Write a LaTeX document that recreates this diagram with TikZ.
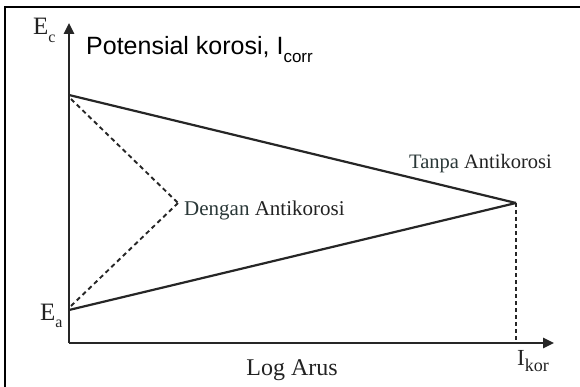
\documentclass[tikz,border=0pt]{standalone}
\usepackage{fontspec}
\setmainfont{Liberation Serif}
\newfontfamily\arialf{Liberation Sans}
\usetikzlibrary{arrows.meta}
\definecolor{ink}{HTML}{262626}
\definecolor{txt}{HTML}{222222}
\definecolor{tealtxt}{HTML}{2A3838}
\tikzset{
  axisline/.style={draw=ink,line width=2.6pt,-{Triangle[length=11pt,width=10pt]}},
  mainline/.style={draw=ink,line width=2.2pt},
  dashline/.style={draw=ink,line width=1.9pt,dash pattern=on 4.5pt off 3.5pt},
  vdashline/.style={draw=ink,line width=2.4pt,dash pattern=on 4pt off 3pt},
  lbl/.style={inner sep=0pt,anchor=base west,text=txt},
}
\newcommand{\lsub}[2]{\raisebox{-0.3em}{\fontsize{#1}{#1}\selectfont #2}}
\begin{document}
\begin{tikzpicture}[x=1pt,y=-1pt]
\useasboundingbox (0,0) rectangle (580,387);
\fill[white] (0,0) rectangle (580,387);
\draw[draw=black,line width=2.4pt] (5,388) -- (5,7) -- (581,7);
% coordinates
\coordinate (O) at (69,343);
\coordinate (Ytop) at (69,23);
\coordinate (Xend) at (554,343);
\coordinate (C) at (69,95);
\coordinate (A) at (69,310);
\coordinate (K) at (516,203);
\coordinate (Kb) at (516,343);
\coordinate (D) at (178,203);
\coordinate (Cd) at (71,99);
\coordinate (Ad) at (71,306);
% axes
\draw[axisline] (O) -- (Ytop);
\draw[axisline] (O) -- (Xend);
% solid lines
\draw[mainline] (C) -- (K);
\draw[mainline] (A) -- (K);
% dashed lines
\draw[dashline] (Cd) -- (D);
\draw[dashline] (Ad) -- (D);
\draw[vdashline] (K) -- (Kb);
% labels
\node[lbl] (ec) at (33,35) {\fontsize{25}{25}\selectfont E\lsub{16}{c}};
\node[lbl] (ea) at (40,320) {\fontsize{25}{25}\selectfont E\lsub{16}{a}};
\node[lbl] (ik) at (517,365) {\fontsize{23}{23}\selectfont I\lsub{18}{kor}};
\node[lbl,text=black] (pk) at (86,55) {\arialf\fontsize{25}{30}\selectfont Potensial korosi, I\lsub{17}{corr}};
\node[lbl] (dg) at (184,215) {\fontsize{21}{24}\selectfont\textcolor{tealtxt}{Dengan} Antikorosi};
\node[lbl] (tp) at (409,169) {\fontsize{20.5}{24}\selectfont\textcolor{tealtxt}{Tanpa} Antikorosi};
\node[inner sep=0pt,anchor=base,text=txt] (la) at (292,375) {\fontsize{24}{28}\selectfont Log Arus};
\end{tikzpicture}
\end{document}
